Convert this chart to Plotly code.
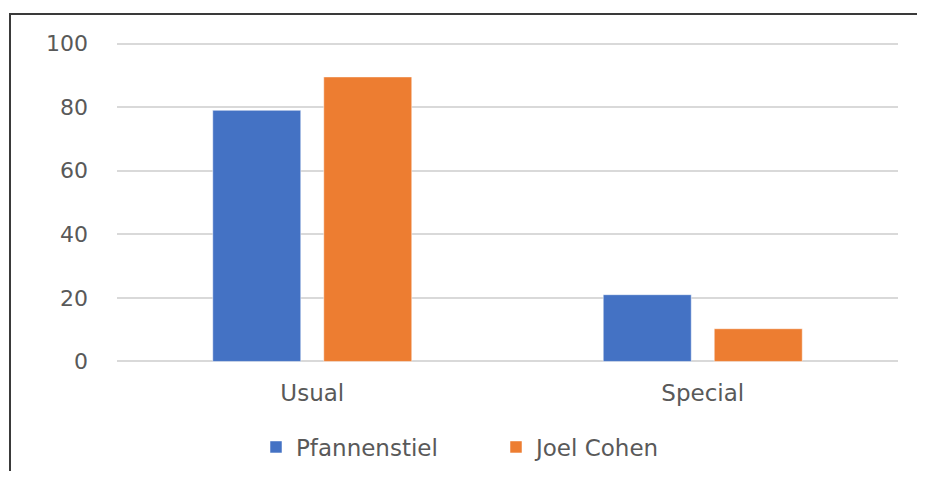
import plotly.graph_objects as go

categories = ["Usual", "Special"]
pfannenstiel = [79, 21]
joel_cohen = [89.5, 10.3]
y_ticks = [0, 20, 40, 60, 80, 100]

OFF = 8  # default body margin of the page
W, H = 925 - 2 * OFF, 479 - 2 * OFF
ml, mr, mt, mb = 109, 19, 33, 107
pw, ph = W - ml - mr, H - mt - mb

def px_x(p):
    return (p - OFF - ml) / pw

def px_y(p):
    return (H - mb - (p - OFF)) / ph

font_main = "DejaVu Sans"
grey = "#595959"

fig = go.Figure()
fig.add_trace(go.Bar(name="Pfannenstiel", x=categories, y=pfannenstiel,
                     marker=dict(color="#4472C4", line=dict(color="rgba(255,255,255,0.5)", width=1))))
fig.add_trace(go.Bar(name="Joel Cohen", x=categories, y=joel_cohen,
                     marker=dict(color="#ED7D31", line=dict(color="rgba(255,255,255,0.5)", width=1))))

fig.update_layout(
    width=W, height=H,
    margin=dict(l=ml, r=mr, t=mt, b=mb, autoexpand=False),
    paper_bgcolor="white", plot_bgcolor="white",
    barmode="group", bargap=0.4315, bargroupgap=0.207,
    font=dict(family=font_main, color=grey, size=22),
    showlegend=True,
    legend=dict(orientation="h", x=px_x(256), xanchor="left", y=px_y(447), yanchor="middle",
                font=dict(family=font_main, size=23, color=grey), itemwidth=30,
                entrywidth=195, entrywidthmode="pixels",
                bgcolor="rgba(0,0,0,0)"),
    xaxis=dict(showgrid=False, showline=False, ticks="", zeroline=False,
               tickfont=dict(family=font_main, size=23, color=grey), ticklabelstandoff=13),
    yaxis=dict(range=[-0.8, 100.8], tickvals=y_ticks, showgrid=True, gridcolor="#d9d9d9", gridwidth=1.5,
               zeroline=False, showline=False, ticks="",
               tickfont=dict(family=font_main, size=22, color=grey), ticklabelstandoff=28),
    shapes=[dict(type="rect", xref="paper", yref="paper",
                 x0=px_x(10), x1=px_x(990), y0=px_y(14), y1=px_y(560),
                 line=dict(color="#3a3a3a", width=2), fillcolor="rgba(0,0,0,0)", layer="above")],
)

fig.write_html("out.html")
